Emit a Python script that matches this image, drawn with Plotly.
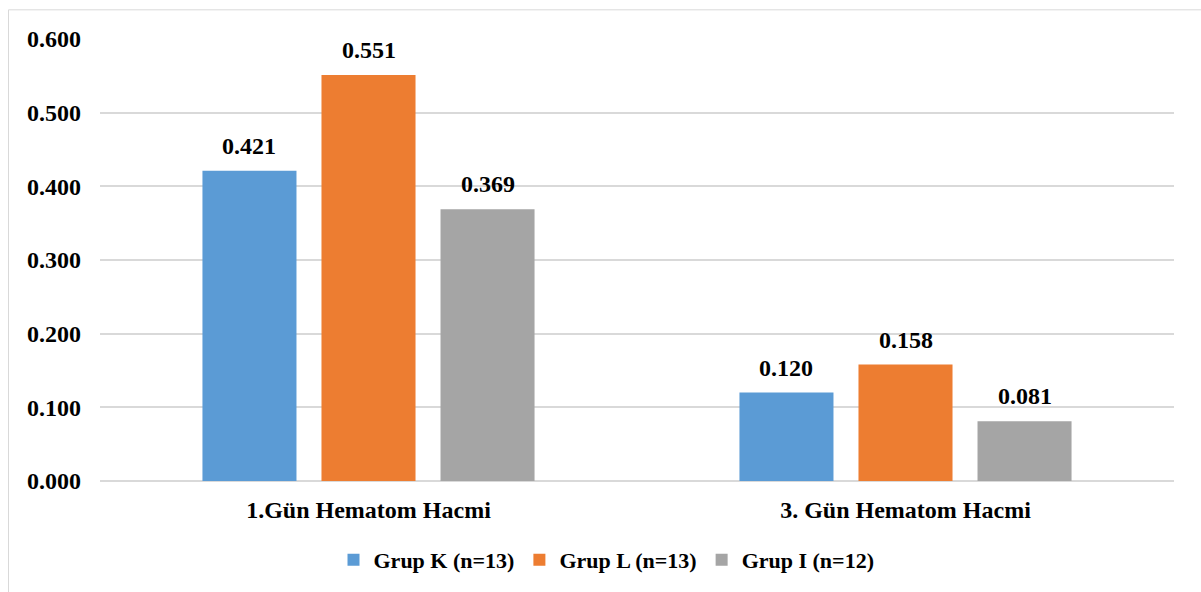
import plotly.graph_objects as go

# Hematoma volume by group and day
categories = ["1.Gün Hematom Hacmi", "3. Gün Hematom Hacmi"]
series_names = ["Grup K (n=13)", "Grup L (n=13)", "Grup I (n=12)"]
grup_k = [0.421, 0.120]
grup_l = [0.551, 0.158]
grup_i = [0.369, 0.081]
series_values = [grup_k, grup_l, grup_i]
colors = ["#5B9BD5", "#ED7D31", "#A5A5A5"]
y_ticks = [0.0, 0.1, 0.2, 0.3, 0.4, 0.5, 0.6]

FONT = "Liberation Serif, Times New Roman, serif"
FSIZE = 24
BARGAP = 0.335
BARGROUPGAP = 0.21

fig = go.Figure()
for name, vals, col in zip(series_names, series_values, colors):
    fig.add_trace(go.Bar(
        x=categories, y=vals, name=name,
        marker=dict(color=col, line=dict(width=0)),
        hoverinfo="skip",
    ))

# value labels above each bar, placed at the grouped-bar slot centres
n = len(series_values)
slot = (1 - BARGAP) / n
annotations = []
for k, vals in enumerate(series_values):
    for i, v in enumerate(vals):
        annotations.append(dict(
            x=i + (k - (n - 1) / 2) * slot, y=v, xref="x", yref="y",
            text=f"<b>{v:.3f}</b>", showarrow=False,
            yanchor="bottom", xanchor="center", yshift=10,
            font=dict(family=FONT, size=FSIZE, color="#000000"),
        ))

fig.update_layout(
    width=1201, height=592,
    margin=dict(l=100, r=27, t=39, b=111, autoexpand=False),
    paper_bgcolor="white", plot_bgcolor="white",
    barmode="group", bargap=BARGAP, bargroupgap=BARGROUPGAP,
    font=dict(family=FONT, size=FSIZE, color="#000000"),
    showlegend=True,
    legend=dict(
        orientation="h", xref="container", yref="container",
        x=0.505, xanchor="center", y=0.054, yanchor="middle",
        font=dict(family=FONT, size=22, color="#000000", weight="bold"),
        itemclick=False, itemdoubleclick=False,
    ),
    annotations=annotations,
    shapes=[dict(
        type="rect", xref="paper", yref="paper",
        x0=-0.0852, x1=1.1, y0=-0.3, y1=1.066,
        line=dict(color="#D9D9D9", width=1), fillcolor="rgba(0,0,0,0)",
        layer="below",
    )],
)
fig.update_xaxes(
    type="category", showgrid=False, zeroline=False,
    showline=False, ticks="", automargin=False,
    tickfont=dict(family=FONT, size=FSIZE, color="#000000", weight="bold"),
    ticklabelstandoff=12,
)
fig.update_yaxes(
    range=[0, 0.6], tickvals=y_ticks, ticktext=[f"{t:.3f}" for t in y_ticks],
    showgrid=True, gridcolor="#D9D9D9", gridwidth=1.5,
    zeroline=True, zerolinecolor="#D9D9D9", zerolinewidth=1.5,
    showline=False, ticks="", automargin=False,
    tickfont=dict(family=FONT, size=FSIZE, color="#000000", weight="bold"),
    ticklabelstandoff=18,
)

fig.write_html("out.html")
